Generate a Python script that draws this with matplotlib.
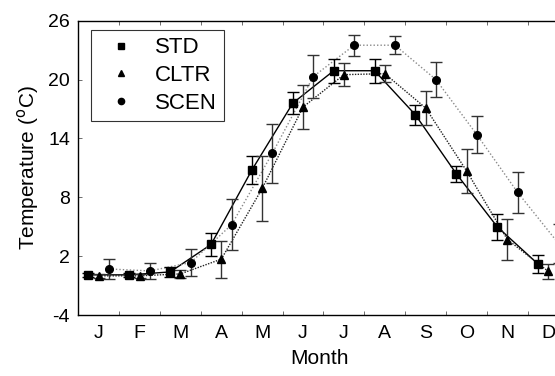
import numpy as np
import matplotlib.pyplot as plt
from matplotlib.lines import Line2D

plt.rcParams['font.family'] = ['Liberation Sans', 'DejaVu Sans']
plt.rcParams['axes.unicode_minus'] = False

# Mean monthly temperature (°C) and error bar half-widths for each treatment
months = ["J", "F", "M", "A", "M", "J", "J", "A", "S", "O", "N", "D"]
std_temp = [0.1, 0.1, 0.4, 3.2, 10.8, 17.6, 20.9, 20.9, 16.4, 10.4, 5.0, 1.2]
std_err = [0.2, 0.2, 0.5, 1.2, 1.4, 1.1, 1.2, 1.2, 1.05, 0.8, 1.3, 0.9]
cltr_temp = [0.0, 0.0, 0.2, 1.7, 8.9, 17.2, 20.5, 20.6, 17.1, 10.7, 3.7, 0.45]
cltr_err = [0.2, 0.2, 0.4, 1.9, 3.3, 2.2, 1.15, 0.85, 1.75, 2.25, 2.1, 0.75]
scen_temp = [0.7, 0.5, 1.35, 5.2, 12.5, 20.3, 23.5, 23.5, 20.0, 14.4, 8.5, 3.3]
scen_err = [1.0, 0.8, 1.4, 2.6, 3.0, 2.2, 1.05, 0.9, 1.8, 1.85, 2.1, 2.0]

idx = np.arange(len(months))

fig = plt.figure(figsize=(5.55, 3.76), dpi=100)
ax = fig.add_axes([0.141, 0.162, 0.869, 0.783])

series = [
    ("STD", std_temp, std_err, 0.25, "s", "-", "black", "black"),
    ("CLTR", cltr_temp, cltr_err, 0.50, "^", (0, (1, 1)), "#222222", "#333333"),
    ("SCEN", scen_temp, scen_err, 0.75, "o", (0, (1, 1.5)), "#8a8a8a", "#333333"),
]

handles = []
for name, vals, errs, off, mk, ls, lc, ec in series:
    x = idx + off
    ax.plot(x, vals, linestyle=ls, color=lc, linewidth=1.0, zorder=2)
    ax.errorbar(x, vals, yerr=errs, fmt="none", ecolor=ec, elinewidth=1.0,
                capsize=4, capthick=1.0, zorder=3)
    ax.plot(x, vals, linestyle="none", marker=mk, color="black",
            markersize=5.5, zorder=4)
    handles.append(Line2D([], [], linestyle="none", marker=mk, color="black",
                          markersize=4.5, label=name))

ax.set_xlim(0, 11.8)
ax.set_ylim(-4, 26)
ax.set_yticks([-4, 2, 8, 14, 20, 26])

# ticks on month boundaries, labels centred in each month
ax.set_xticks(np.arange(1, 12))
ax.set_xticklabels([])
ax.set_xticks(idx + 0.5, minor=True)
ax.set_xticklabels(months, minor=True)
ax.tick_params(axis="x", which="minor", length=0, pad=7, labelsize=14)
ax.tick_params(axis="x", which="major", direction="in", length=3, width=0.6,
               top=True, color="#555555")
ax.tick_params(axis="y", direction="in", length=3, width=0.6, labelsize=14,
               pad=6, color="#555555")

for side in ["left", "bottom", "top"]:
    ax.spines[side].set_linewidth(1.0)
ax.spines["right"].set_visible(False)

ax.set_xlabel("Month", fontsize=15, labelpad=5)
ax.set_ylabel("Temperature ($^{\\mathrm{o}}$C)", fontsize=15, labelpad=5)

leg = ax.legend(handles=handles, loc="upper left", bbox_to_anchor=(0.027, 0.97),
                fontsize=16, frameon=True, fancybox=False, handlelength=2.0,
                handletextpad=0.5, borderpad=0.35, labelspacing=0.3,
                borderaxespad=0)
leg.get_frame().set_edgecolor("black")
leg.get_frame().set_linewidth(0.8)

fig.savefig("out.png", dpi=100)
